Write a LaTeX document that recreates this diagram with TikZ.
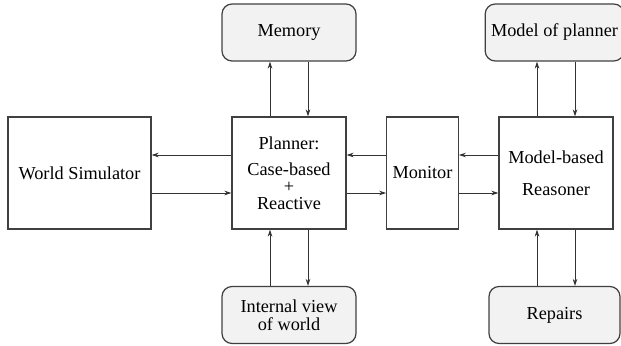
\documentclass[tikz,border=0pt]{standalone}
\usepackage{fontspec}
\setmainfont{Liberation Serif}
\newfontfamily\timesfont{Liberation Serif}
\usetikzlibrary{arrows.meta}
\begin{document}
\begin{tikzpicture}[
    font=\timesfont\fontsize{10.4pt}{12.2pt}\selectfont,
    block/.style={
        rectangle,
        draw=black!75,
        line width=0.7pt,
        align=center,
        minimum height=2.24cm
    },
    store/.style={
        rectangle,
        rounded corners=0.2cm,
        draw=black!75,
        fill=gray!10,
        line width=0.7pt,
        align=center,
        minimum height=1.14cm
    },
    flow/.style={
        draw=black!80,
        line width=0.5pt,
        -{Stealth[length=4pt,width=2.6pt]}
    }
]

% Frame
\useasboundingbox (0, 0) rectangle (12.42, 6.9);

% Main blocks
\node[block, minimum width=2.86cm] (world) at (1.59, 3.44) {World Simulator};
\node[block, minimum width=2.28cm] (planner) at (5.78, 3.44) {Planner:\\[2.8pt] Case-based\\[-2.6pt] +\\[-2.8pt] Reactive};
\node[block, minimum width=1.34cm] (monitor) at (8.45, 3.44) {Monitor};
\node[block, minimum width=2.28cm] (reasoner) at (11.12, 3.44) {Model-based\\[6pt] Reasoner};

% Stores
\node[store, minimum width=2.68cm] (memory) at (5.78, 6.25) {Memory};
\node[store, minimum width=2.68cm] (internal) at (5.78, 0.6) {Internal view\\[-1.8pt] of world};
\node[store, minimum width=2.62cm] (model) at (11.09, 6.25) {Model of planner};
\node[store, minimum width=2.62cm] (repairs) at (11.09, 0.6) {Repairs};

% Horizontal links
\draw[flow] ([yshift=0.36cm]planner.west) -- ([yshift=0.36cm]world.east);
\draw[flow] ([yshift=-0.4cm]world.east) -- ([yshift=-0.4cm]planner.west);
\draw[flow] ([yshift=0.36cm]monitor.west) -- ([yshift=0.36cm]planner.east);
\draw[flow] ([yshift=-0.4cm]planner.east) -- ([yshift=-0.4cm]monitor.west);
\draw[flow] ([yshift=0.36cm]reasoner.west) -- ([yshift=0.36cm]monitor.east);
\draw[flow] ([yshift=-0.4cm]monitor.east) -- ([yshift=-0.4cm]reasoner.west);

% Vertical links
\draw[flow] ([xshift=-0.38cm]planner.north) -- ([xshift=-0.38cm]planner.north |- memory.south);
\draw[flow] ([xshift=0.38cm]planner.north |- memory.south) -- ([xshift=0.38cm]planner.north);
\draw[flow] ([xshift=-0.38cm]internal.north) -- ([xshift=-0.38cm]planner.south);
\draw[flow] ([xshift=0.38cm]planner.south) -- ([xshift=0.38cm]internal.north);
\draw[flow] ([xshift=-0.38cm]reasoner.north) -- ([xshift=-0.38cm]reasoner.north |- model.south);
\draw[flow] ([xshift=0.38cm]reasoner.north |- model.south) -- ([xshift=0.38cm]reasoner.north);
\draw[flow] ([xshift=-0.38cm]reasoner.south |- repairs.north) -- ([xshift=-0.38cm]reasoner.south);
\draw[flow] ([xshift=0.38cm]reasoner.south) -- ([xshift=0.38cm]reasoner.south |- repairs.north);

\end{tikzpicture}
\end{document}
